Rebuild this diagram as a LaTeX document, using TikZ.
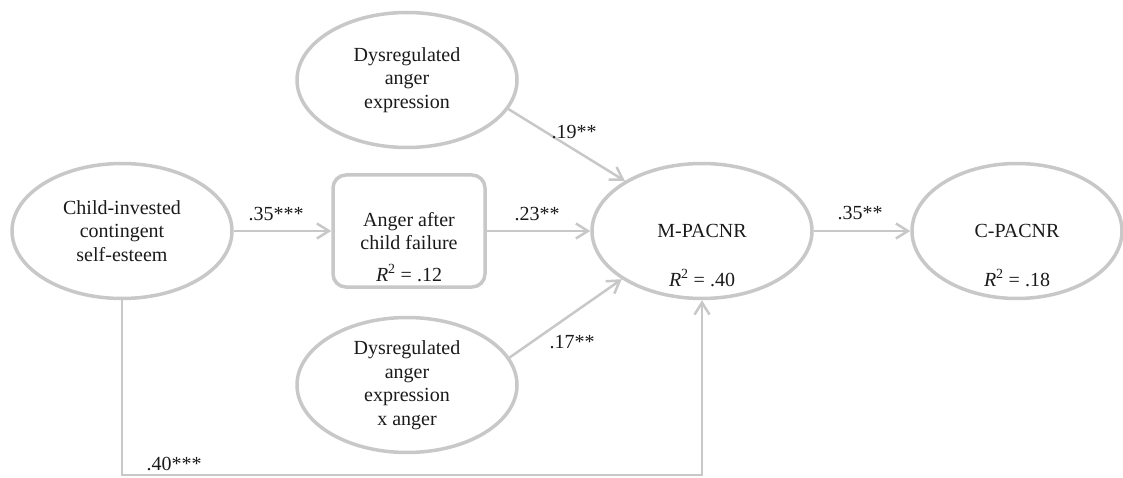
\documentclass[tikz,border=0pt]{standalone}
\usepackage{fontspec}
\setmainfont{Liberation Serif}
\usepackage{tikz}
\usetikzlibrary{positioning, arrows.meta, shapes.geometric}
\definecolor{lineGray}{HTML}{C8C8C8}
\definecolor{textDark}{HTML}{1A1A1A}

\begin{document}
\begin{tikzpicture}[
    x=1pt, y=-1pt,
    lat/.style={ellipse, draw=lineGray, line width=3.5pt, minimum width=220pt, minimum height=135pt, align=center, text=textDark, font=\fontsize{20pt}{23.5pt}\selectfont},
    obs/.style={rectangle, rounded corners=13pt, draw=lineGray, line width=3.5pt, minimum width=152pt, minimum height=112pt, align=center, text=textDark, font=\fontsize{20pt}{23.5pt}\selectfont},
    coef/.style={inner sep=0pt, text=textDark, font=\fontsize{20pt}{23.5pt}\selectfont},
    arr/.style={-{Straight Barb[length=12pt, width=15pt]}, line width=2.5pt, draw=lineGray},
  ]
    \useasboundingbox (0,0) rectangle (1123,478);

    % predictor, mediator, moderators
    \node[lat] (cise) at (122,231) {Child-invested\\contingent\\self-esteem};
    \node[obs] (acf) at (409,231) {Anger after\\child failure};
    \node[lat] (dae) at (407,80) {Dysregulated\\anger\\expression};
    \node[lat] (daex) at (407,385) {Dysregulated\\anger\\expression\\x anger};

    % outcomes
    \node[lat] (mpac) at (702,231) {M-PACNR};
    \node[lat, minimum width=210pt] (cpac) at (1017,231) {C-PACNR};
    \foreach \n/\dy/\v in {acf/42/.12, mpac/47/.40, cpac/47/.18}
      \node[coef] (r2\n) at ([yshift=-\dy pt]\n.center) {\textit{R}\textsuperscript{2} = \v};

    % paths
    \draw[arr] (cise.east) -- (acf.west);
    \draw[arr] (acf.east) -- (mpac.west);
    \draw[arr] (mpac.east) -- (cpac.west);
    \draw[arr] (dae.-16) -- (mpac.147);
    \draw[arr] (daex.15) -- (mpac.211);
    \coordinate (floor) at (0,475);
    \draw[arr] (cise.south) -- (cise.south |- floor) -- (mpac.south |- floor) -- (mpac.south);

    % coefficients
    \node[coef] (bCiseAcf) at (276,214) {.35***};
    \node[coef] (bAcfMpac) at (537,214) {.23**};
    \node[coef] (bMpacCpac) at (860,213) {.35**};
    \node[coef] (bDaeMpac) at (574,132) {.19**};
    \node[coef] (bDaexMpac) at (572,342) {.17**};
    \node[coef] (bCiseMpac) at (174,464) {.40***};
  \end{tikzpicture}
\end{document}
